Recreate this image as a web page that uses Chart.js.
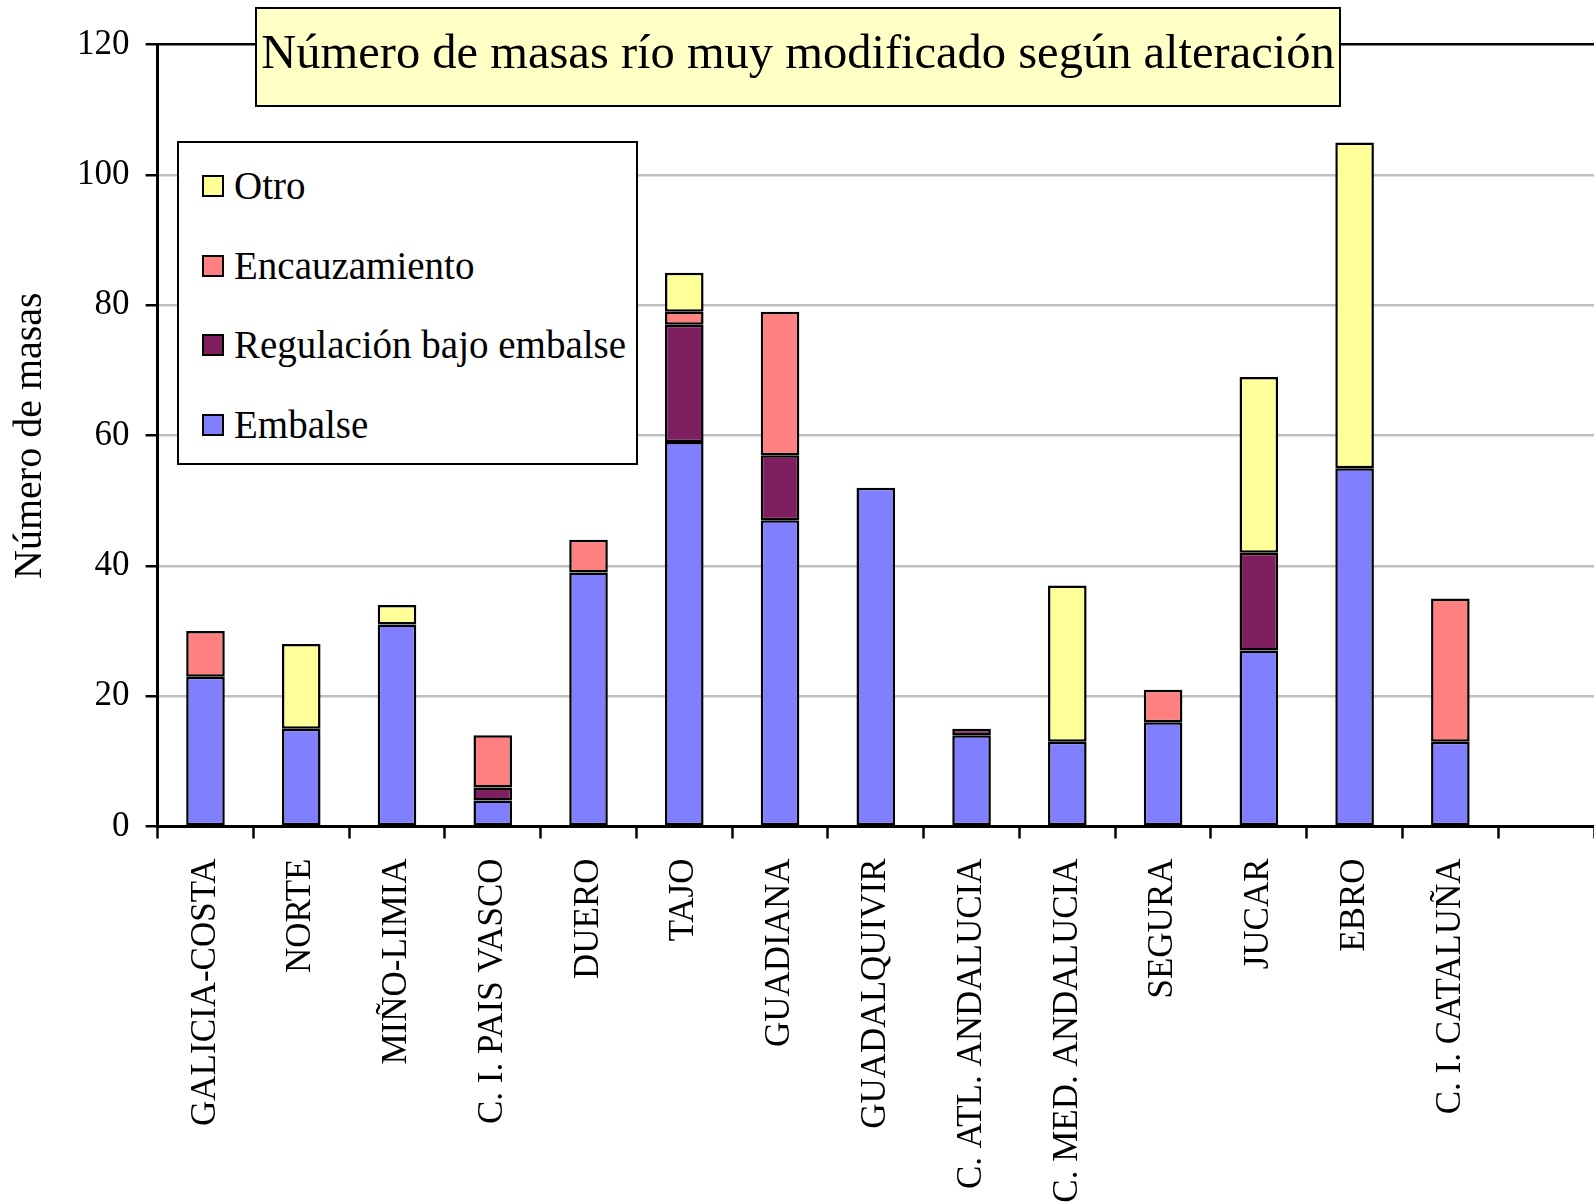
<!DOCTYPE html>
<html>
<head>
<meta charset="utf-8">
<script src="https://cdn.jsdelivr.net/npm/chart.js@4.4.1/dist/chart.umd.min.js"></script>
<style>
  body { margin: 0; background: #fff; }
  #wrap { position: relative; width: 1594px; height: 1203px; overflow: hidden; font-family: 'Liberation Serif', 'Times New Roman', serif; color: #000; }
  #chart { position: absolute; left: 0; top: 0; }
  #title {
    position: absolute; left: 255px; top: 7px; width: 1086px; height: 100px;
    box-sizing: border-box; border: 2.5px solid #000; background: #ffffc6;
    text-align: center; font-size: 48.5px; line-height: 86px; white-space: nowrap;
  }
  #legend {
    position: absolute; left: 177px; top: 141px; width: 461px; height: 324px;
    box-sizing: border-box; border: 2.5px solid #000; background: #fff;
  }
  .sw { position: absolute; width: 22px; height: 22px; box-sizing: border-box; border: 2.5px solid #000; }
  .lt { position: absolute; font-size: 39px; line-height: 39px; white-space: nowrap; }
</style>
</head>
<body>
<div id="wrap">
  <canvas id="chart" width="1594" height="1203"></canvas>
  <div id="title">Número de masas río muy modificado según alteración</div>
  <div id="legend"></div>
</div>
<script>
// categories (last slot is empty, as in the original plot area)
const categories = ['GALICIA-COSTA', 'NORTE', 'MIÑO-LIMIA', 'C. I. PAIS VASCO', 'DUERO', 'TAJO',
    'GUADIANA', 'GUADALQUIVIR', 'C. ATL. ANDALUCIA', 'C. MED. ANDALUCIA', 'SEGURA', 'JUCAR',
    'EBRO', 'C. I. CATALUÑA', ''];

// stacked from bottom to top
const embalse       = [23, 15, 31, 4, 39, 59, 47, 52, 14, 13, 16, 27, 55, 13];
const regulacion    = [0, 0, 0, 2, 0, 18, 10, 0, 1, 0, 0, 15, 0, 0];
const encauzamiento = [7, 0, 0, 8, 5, 2, 22, 0, 0, 0, 5, 0, 0, 22];
const otro          = [0, 13, 3, 0, 0, 6, 0, 0, 0, 24, 0, 27, 50, 0];

const yTicks = [0, 20, 40, 60, 80, 100, 120];

const seriesNames  = ['Embalse', 'Regulación bajo embalse', 'Encauzamiento', 'Otro'];
const seriesColors = ['#8080ff', '#801f5f', '#ff8080', '#ffff99'];

const FONT = "'Liberation Serif', 'Times New Roman', serif";
const plotLeft = 157.6;
const plotTop = 44.7;
const plotBottom = 826.5;

function toDataset(values, i) {
    return {
        label: seriesNames[i],
        // zero segments are not drawn at all
        data: values.map(v => v === 0 ? null : v),
        backgroundColor: seriesColors[i],
        borderColor: '#000',
        borderWidth: 2.5,
        borderSkipped: false,
        barPercentage: 0.403,
        categoryPercentage: 1.0
    };
}

const datasets = [embalse, regulacion, encauzamiento, otro].map(toDataset);

const whiteBg = {
    id: 'whiteBg',
    beforeDraw(chart) {
        const ctx = chart.ctx;
        ctx.save();
        ctx.fillStyle = '#fff';
        ctx.fillRect(0, 0, chart.width, chart.height);
        ctx.restore();
    }
};

new Chart(document.getElementById('chart').getContext('2d'), {
    type: 'bar',
    data: { labels: categories, datasets: datasets },
    plugins: [whiteBg],
    options: {
        responsive: false,
        animation: false,
        devicePixelRatio: 1,
        layout: { padding: { top: plotTop, right: 0, left: 0, bottom: 0 } },
        plugins: {
            legend: { display: false },
            title: { display: false },
            tooltip: { enabled: false }
        },
        scales: {
            x: {
                stacked: true,
                offset: true,
                border: { color: '#000', width: 3 },
                grid: { drawOnChartArea: false, drawTicks: true, tickLength: 12, tickColor: '#000', tickWidth: 2.5, offset: true },
                ticks: {
                    color: '#000', font: { family: FONT, size: 35 },
                    maxRotation: 90, minRotation: 90, autoSkip: false, padding: 20
                },
                afterFit(scale) {
                    scale.height = 1203 - plotBottom;
                    // plot area runs to the right edge of the picture
                    scale.paddingLeft = 0;
                    scale.paddingRight = 0;
                }
            },
            y: {
                stacked: true,
                min: 0, max: 120,
                afterBuildTicks(scale) { scale.ticks = yTicks.map(v => ({ value: v })); },
                border: { color: '#000', width: 3 },
                grid: {
                    color: ctx => ctx.tick && ctx.tick.value === 120 ? '#000' : '#c0c0c0',
                    lineWidth: 2.5, tickLength: 12, tickColor: '#000', tickWidth: 2.5
                },
                ticks: { color: '#000', font: { family: FONT, size: 35 }, padding: 16 },
                title: {
                    display: true, text: 'Número de masas', color: '#000',
                    font: { family: FONT, size: 40 }, padding: { top: 6, bottom: 0 }
                },
                afterFit(scale) { scale.width = plotLeft; }
            }
        }
    }
});

// legend box, top entry is the top of the stack
const legend = document.getElementById('legend');
[3, 2, 1, 0].forEach((s, i) => {
    const sw = document.createElement('div');
    sw.className = 'sw';
    sw.style.left = (200 - 177) + 'px';
    sw.style.top = (173 + i * 79.7 - 141) + 'px';
    sw.style.background = seriesColors[s];
    legend.appendChild(sw);
    const t = document.createElement('div');
    t.className = 'lt';
    t.style.left = (232 - 177) + 'px';
    t.style.top = (164 + i * 79.7 - 141) + 'px';
    t.textContent = seriesNames[s];
    legend.appendChild(t);
});
</script>
</body>
</html>
